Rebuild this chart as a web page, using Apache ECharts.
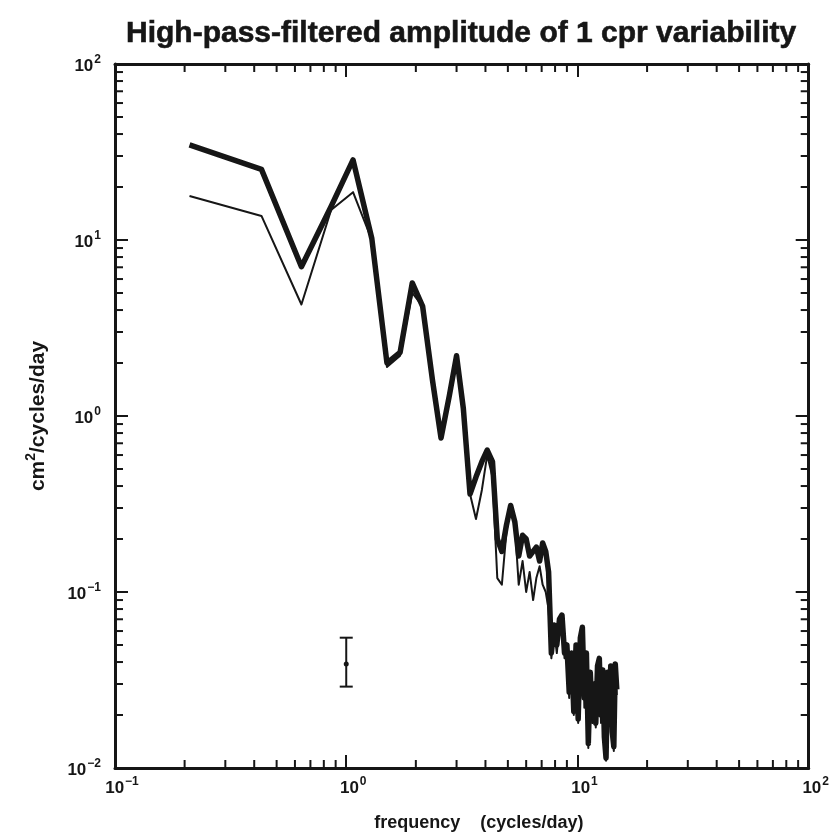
<!DOCTYPE html>
<html><head><meta charset="utf-8">
<script src="https://cdn.jsdelivr.net/npm/echarts@6/dist/echarts.min.js"></script>
<style>html,body{margin:0;padding:0;background:#fff}#c{width:832px;height:838px}</style>
</head><body><div id="c"></div>
<script>
// frequency (cycles/day)
const frequency = [0.21,0.43,0.64,0.86,1.07,1.29,1.50,1.71,1.93,2.14,2.36,2.57,2.79,3.00,3.21,3.43,3.64,3.86,4.07,4.29,
  4.50,4.71,4.93,5.14,5.36,5.57,5.79,6.00,6.21,6.43,6.64,6.86,7.07,7.29,7.50,7.71,7.93,8.14,8.36,8.57,
  8.79,9.00,9.21,9.43,9.64,9.86,10.07,10.29,10.50,10.71,10.93,11.14,11.36,11.57,11.79,12.00,12.21,12.43,12.64,12.86,
  13.07,13.29,13.50,13.71,13.93,14.14,14.36,14.57,14.79];
// thick curve (cm^2/cycles/day)
const thickPower = [34.7,25.2,7.05,15.5,28.5,10.2,2.0,2.3,5.7,4.2,1.6,0.75,1.3,2.2,1.1,0.36,0.45,0.55,0.64,0.55,
  0.2,0.17,0.24,0.31,0.25,0.16,0.21,0.2,0.16,0.17,0.18,0.15,0.19,0.17,0.13,0.045,0.065,0.05,0.07,0.074,
  0.045,0.05,0.027,0.045,0.021,0.05,0.019,0.055,0.063,0.025,0.045,0.0138,0.035,0.02,0.03,0.018,0.038,0.042,0.02,0.036,
  0.015,0.0114,0.035,0.02,0.038,0.016,0.0132,0.039,0.028];
// thin curve
const thinPower = [17.8,13.7,4.3,14.8,18.7,10.0,1.9,2.2,5.0,4.2,1.6,0.75,1.4,2.2,1.1,0.36,0.26,0.38,0.6,0.45,
  0.12,0.11,0.22,0.31,0.24,0.11,0.15,0.1,0.13,0.09,0.12,0.14,0.11,0.1,0.08,0.042,0.06,0.045,0.065,0.07,
  0.042,0.045,0.025,0.04,0.02,0.045,0.018,0.05,0.06,0.022,0.04,0.013,0.032,0.018,0.028,0.017,0.035,0.04,0.018,0.034,
  0.014,0.011,0.033,0.019,0.036,0.015,0.0125,0.037,0.026];
// error bar
const errFreq = [1.0];
const errLow = [0.029];
const errHigh = [0.055];
const errMid = [0.039];
// minor tick values
const xMinorTicks = [0.2,0.3,0.4,0.5,0.6,0.7,0.8,0.9,2,3,4,5,6,7,8,9,20,30,40,50,60,70,80,90];
const yMinorTicks = [0.02,0.03,0.04,0.05,0.06,0.07,0.08,0.09,0.2,0.3,0.4,0.5,0.6,0.7,0.8,0.9,2,3,4,5,6,7,8,9,20,30,40,50,60,70,80,90];

const INK = '#161616';
const FONT = 'Liberation Sans';
const X_MIN = 0.1, X_MAX = 100, Y_MIN = 0.01, Y_MAX = 100;

function expLabel(v) {
  const e = Math.round(Math.log10(v));
  return '{b|10}{s|' + (e < 0 ? '\u2212' + (-e) : String(e)) + '}';
}
const labelRich = {
  b: {fontFamily: FONT, fontSize: 17, color: INK, fontWeight: 'bold', lineHeight: 21, verticalAlign: 'bottom'},
  s: {fontFamily: FONT, fontSize: 12, color: INK, fontWeight: 'bold', lineHeight: 21, verticalAlign: 'top', padding: [0,0,0,1]}
};
const axisLineStyle = {show: true, onZero: false, lineStyle: {color: INK, width: 3}};
const majorTick = {show: true, inside: true, length: 13, lineStyle: {color: INK, width: 2}};

function mkX(pos, showLabel, name) {
  return {
    type: 'log', logBase: 10, min: X_MIN, max: X_MAX, position: pos,
    axisLine: axisLineStyle, axisTick: majorTick, splitLine: {show: false},
    axisLabel: {show: showLabel, formatter: expLabel, rich: labelRich, margin: 8, padding: [0,0,0,14], showMinLabel: true, showMaxLabel: true},
    name: name, nameLocation: 'middle', nameGap: 46,
    nameTextStyle: {fontFamily: FONT, fontWeight: 'bold', fontSize: 18, color: INK, padding: [0,0,0,34]}
  };
}
function mkY(pos, showLabel, name) {
  return {
    type: 'log', logBase: 10, min: Y_MIN, max: Y_MAX, position: pos,
    axisLine: axisLineStyle, axisTick: majorTick, splitLine: {show: false},
    axisLabel: {show: showLabel, formatter: expLabel, rich: labelRich, margin: 14, showMinLabel: true, showMaxLabel: true},
    name: name, nameLocation: 'middle', nameGap: 66, nameRotate: 90,
    nameTextStyle: {fontFamily: FONT, fontWeight: 'bold', fontSize: 21, color: INK,
      rich: {sup: {fontFamily: FONT, fontWeight: 'bold', fontSize: 14, color: INK, verticalAlign: 'top', lineHeight: 25},
             n: {fontFamily: FONT, fontWeight: 'bold', fontSize: 21, color: INK, lineHeight: 25, verticalAlign: 'bottom'}}}
  };
}

const chart = echarts.init(document.getElementById('c'), null, {renderer: 'canvas'});
chart.setOption({
  backgroundColor: '#ffffff',
  animation: false,
  title: {
    text: 'High-pass-filtered amplitude of 1 cpr variability',
    left: 121, top: 14,
    textStyle: {fontFamily: FONT, fontWeight: 'bold', fontSize: 30, color: INK, textBorderColor: INK, textBorderWidth: 0.6}
  },
  grid: {left: 115, right: 16, top: 64, bottom: 70, containLabel: false},
  xAxis: [mkX('bottom', true, 'frequency    (cycles/day)'), mkX('top', false, '')],
  yAxis: [mkY('left', true, '{n|cm}{sup|2}{n|/cycles/day}'), mkY('right', false, '')],
  series: [
    {
      type: 'line', name: 'thin', xAxisIndex: 0, yAxisIndex: 0, symbol: 'none',
      lineStyle: {color: INK, width: 2, join: 'round'},
      data: frequency.map((f, i) => [f, thinPower[i]])
    },
    {
      type: 'line', name: 'thick', xAxisIndex: 0, yAxisIndex: 0, symbol: 'none',
      lineStyle: {color: INK, width: 5.5, join: 'round'},
      data: frequency.map((f, i) => [f, thickPower[i]])
    },
    {
      type: 'custom', name: 'error', xAxisIndex: 0, yAxisIndex: 0, silent: true,
      data: errFreq.map((f, i) => [f, errLow[i], errHigh[i], errMid[i]]),
      encode: {x: 0, y: [1, 2, 3]},
      renderItem: function (params, api) {
        const lo = api.coord([api.value(0), api.value(1)]);
        const hi = api.coord([api.value(0), api.value(2)]);
        const md = api.coord([api.value(0), api.value(3)]);
        const st = {stroke: INK, lineWidth: 2};
        return {type: 'group', children: [
          {type: 'line', shape: {x1: lo[0], y1: lo[1], x2: hi[0], y2: hi[1]}, style: st},
          {type: 'line', shape: {x1: lo[0] - 6.5, y1: lo[1], x2: lo[0] + 6.5, y2: lo[1]}, style: st},
          {type: 'line', shape: {x1: hi[0] - 6.5, y1: hi[1], x2: hi[0] + 6.5, y2: hi[1]}, style: st},
          {type: 'circle', shape: {cx: md[0], cy: md[1], r: 2.5}, style: {fill: INK}}
        ]};
      }
    },
    {
      type: 'custom', name: 'xminor', xAxisIndex: 0, yAxisIndex: 0, silent: true,
      data: xMinorTicks.map(v => [v, 1]),
      renderItem: function (params, api) {
        const b = api.coord([api.value(0), Y_MIN]);
        const t = api.coord([api.value(0), Y_MAX]);
        const st = {stroke: INK, lineWidth: 2};
        return {type: 'group', children: [
          {type: 'line', shape: {x1: b[0], y1: b[1], x2: b[0], y2: b[1] - 8}, style: st},
          {type: 'line', shape: {x1: t[0], y1: t[1], x2: t[0], y2: t[1] + 8}, style: st}
        ]};
      }
    },
    {
      type: 'custom', name: 'yminor', xAxisIndex: 0, yAxisIndex: 0, silent: true,
      data: yMinorTicks.map(v => [1, v]),
      renderItem: function (params, api) {
        const l = api.coord([X_MIN, api.value(1)]);
        const r = api.coord([X_MAX, api.value(1)]);
        const st = {stroke: INK, lineWidth: 2};
        return {type: 'group', children: [
          {type: 'line', shape: {x1: l[0], y1: l[1], x2: l[0] + 8, y2: l[1]}, style: st},
          {type: 'line', shape: {x1: r[0], y1: r[1], x2: r[0] - 8, y2: r[1]}, style: st}
        ]};
      }
    }
  ]
});
</script></body></html>
